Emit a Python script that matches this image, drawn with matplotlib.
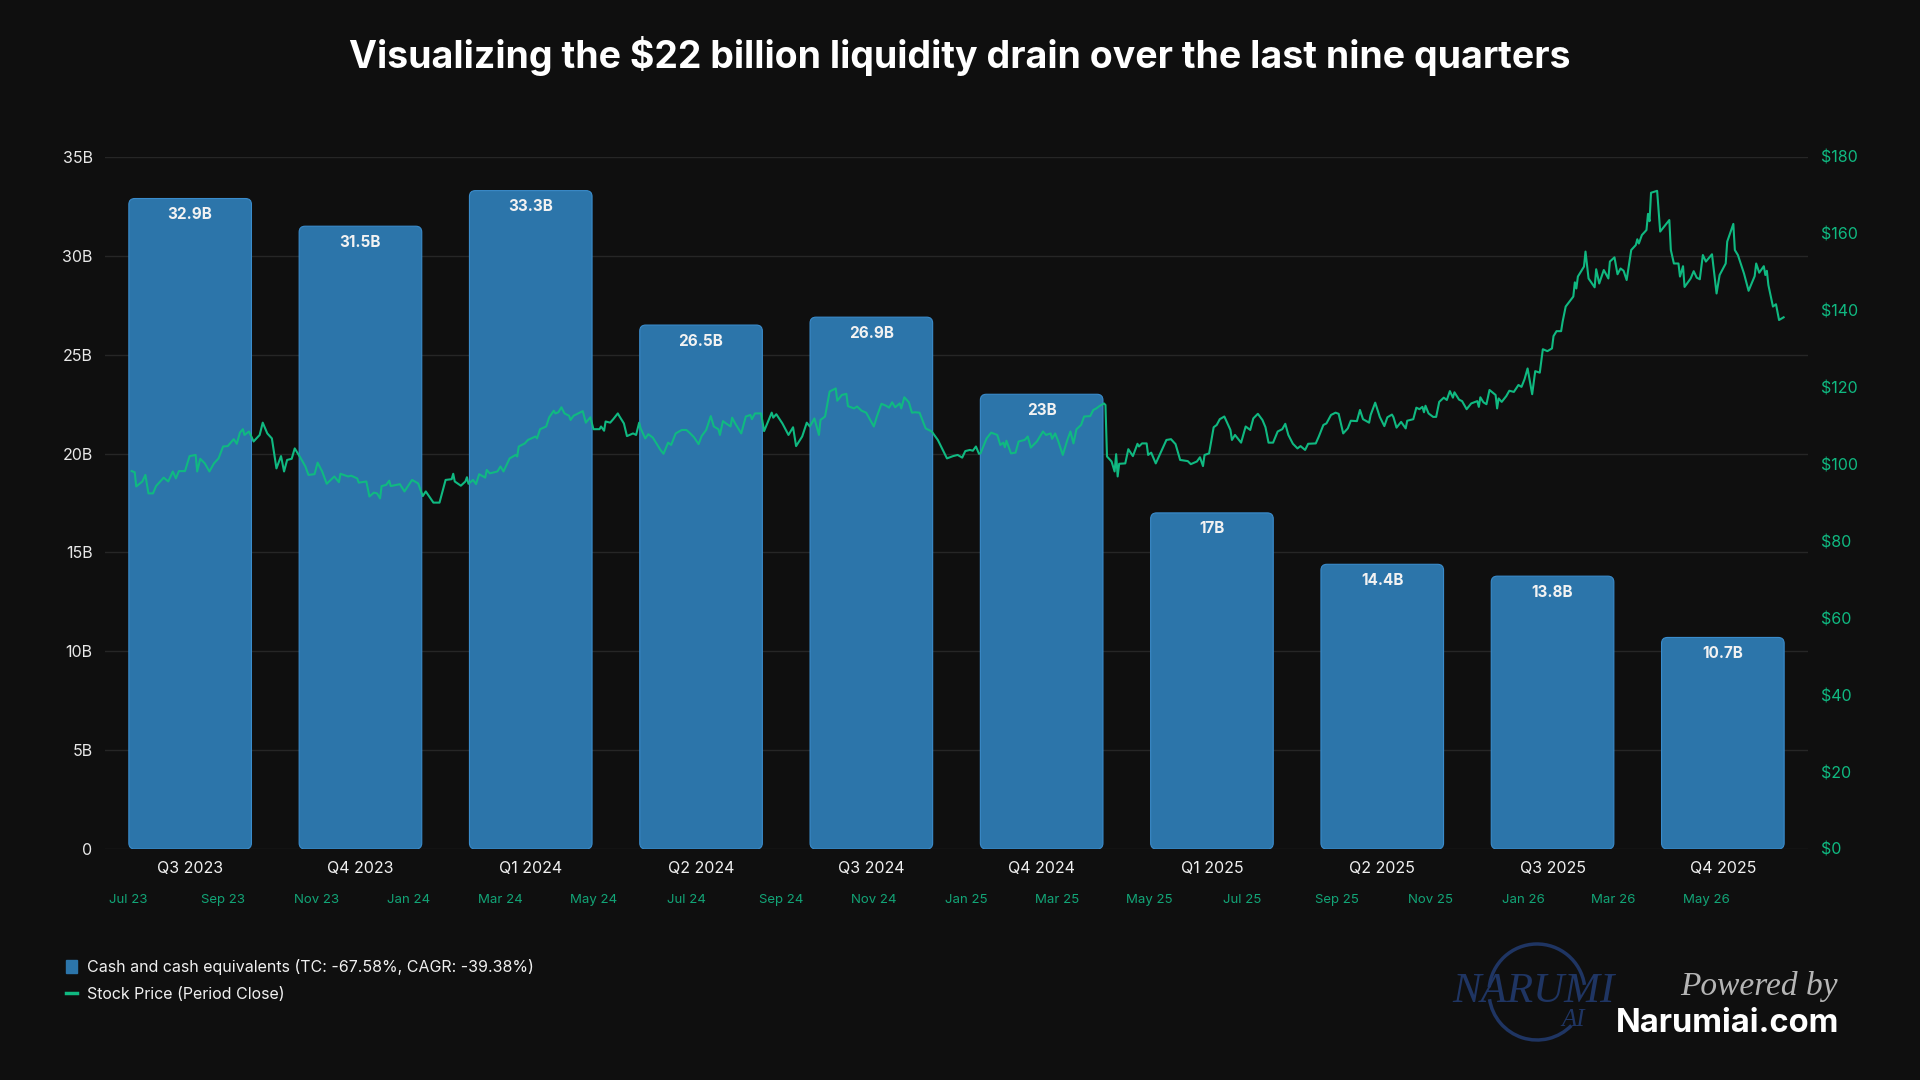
import numpy as np
import pandas as pd
import matplotlib
matplotlib.use("Agg")
import matplotlib.pyplot as plt
import matplotlib.dates as mdates
from matplotlib.patches import FancyBboxPatch, Arc, Patch
from matplotlib.lines import Line2D

plt.rcParams['font.family'] = ['Inter', 'DejaVu Sans']

# quarterly cash and cash equivalents (billions)
quarters = ["Q3 2023", "Q4 2023", "Q1 2024", "Q2 2024", "Q3 2024",
            "Q4 2024", "Q1 2025", "Q2 2025", "Q3 2025", "Q4 2025"]
cash_b = [32.9, 31.5, 33.3, 26.5, 26.9, 23.0, 17.0, 14.4, 13.8, 10.7]
cash_labels = ["32.9B", "31.5B", "33.3B", "26.5B", "26.9B",
               "23B", "17B", "14.4B", "13.8B", "10.7B"]

# stock price close (days counted from price_start)
price_start = "2023-07-01"
price_day = [
    2, 4, 5, 9, 11, 13, 16, 18, 23, 26, 29, 31, 33, 37, 40, 44, 45, 47, 50, 53,
    56, 59, 62, 65, 69, 71, 73, 75, 76, 79, 82, 86, 88, 91, 94, 97, 100, 102, 104, 107,
    109, 113, 116, 118, 122, 124, 127, 130, 135, 138, 139, 144, 146, 150, 151, 156, 158, 161, 163, 165,
    166, 169, 171, 172, 178, 181, 186, 190, 193, 195, 200, 204,
    208, 212, 213, 214, 218, 221, 222, 223, 226, 228, 230, 234, 235, 237, 242, 244, 246, 250,
    254, 255, 256, 260, 262, 267, 268, 270, 274, 276, 279, 280, 282, 284, 286, 289, 290, 292,
    294, 296, 298, 300, 303, 305, 309, 310, 312, 313, 316, 318, 319, 321, 322, 325, 327, 331,
    333, 335, 336, 339, 341, 344, 349, 351, 354, 356, 359, 363, 366, 368, 371, 374, 376, 379,
    382, 384, 387, 388,
    390, 392, 395, 396, 398, 402, 405, 408, 409, 411, 415, 417, 422, 423, 425, 429, 433, 436,
    438, 442, 445, 447, 450, 453, 454, 457, 460, 464, 465, 468, 471, 472, 476, 478, 481, 484,
    489, 491, 494, 497, 499, 501, 503, 506, 507, 509, 512, 514, 516, 519, 523, 527, 531, 537,
    541, 544, 547, 549, 552, 554, 556, 558, 559, 563, 566, 570, 572, 574, 575, 576, 579, 582, 584,
    588, 590, 592, 596, 600, 602, 605, 606, 608, 610, 613, 616, 618, 620, 622, 625, 627, 631,
    633, 635, 637, 640, 641, 642, 645, 647, 648, 649, 650, 654, 656, 659, 662, 663, 665, 668,
    669, 671, 674, 677, 681, 684, 687, 690, 695, 697, 701, 703, 705, 706, 709, 712, 714, 716,
    719, 723, 724, 726, 730, 733, 736, 738, 741, 744, 746, 748, 751, 754, 757, 759, 761, 764,
    767, 769, 772, 774, 779, 781, 784, 786, 789, 792, 794,
    797, 800, 802, 806, 808, 810, 814, 815, 818, 821, 824, 826, 829, 830, 832, 835, 838, 839,
    843, 845, 847, 849, 850, 851, 853, 856, 858, 860, 863, 865, 867, 869, 870, 873, 875, 878,
    881, 885, 886, 887, 889, 891, 893, 897, 898, 899, 901, 904, 906, 909, 912, 914, 916, 918,
    921, 923, 926, 928, 931, 934, 935, 937, 940,
    941, 943, 948, 949, 950, 951, 955, 956, 958, 962, 963, 965, 968, 971, 972, 975, 977, 979,
    981, 983, 986, 989, 990, 991, 993, 996, 997, 998, 999, 1003, 1005, 1011, 1012, 1014, 1017,
    1018, 1020, 1021, 1025, 1027, 1029, 1031, 1033, 1035, 1039, 1042, 1044, 1048, 1049, 1053,
    1054, 1056, 1060, 1063, 1067, 1068, 1070, 1073, 1074, 1075, 1076, 1079, 1081, 1083, 1086,
]
price_close = [
    98.3, 98.0, 94.3, 95.6, 97.3, 92.5, 92.5, 94.4, 96.6, 95.6, 98.2, 96.4, 98.3, 98.3, 102.2, 102.5, 98.2, 101.5, 100.3, 98.2,
    100.3, 101.6, 104.7, 104.8, 106.6, 105.4, 108.3, 109.2, 107.7, 108.6, 106.0, 107.7, 110.9, 108.1, 106.8, 99.0, 102.2, 98.2, 101.2, 101.5,
    104.2, 101.6, 99.5, 97.3, 97.5, 100.5, 98.2, 95.0, 96.9, 95.4, 97.6, 96.9, 97.1, 96.4, 95.3, 95.6, 91.7, 92.7, 92.5, 91.2,
    94.4, 94.7, 95.8, 94.4, 94.9, 93.0, 96.0, 95.1, 91.8, 93.0, 90.1, 90.1,
    96.0, 96.2, 97.6, 95.6, 94.5, 95.6, 96.7, 95.0, 96.0, 94.9, 97.5, 96.6, 98.6, 97.7, 98.2, 99.5, 98.2, 101.6,
    102.5, 102.1, 104.7, 105.5, 106.4, 107.3, 106.8, 109.2, 109.9, 112.3, 114.0, 113.3, 113.6, 114.9, 113.3, 112.7, 111.6, 112.7,
    113.1, 113.5, 113.9, 110.9, 112.3, 109.2, 109.2, 109.9, 108.8, 111.2, 110.9, 111.8, 112.3, 113.3, 112.6, 110.7, 107.4, 108.1,
    107.7, 110.9, 109.4, 106.8, 107.9, 107.0, 103.8, 102.8, 105.7, 105.1, 108.1, 109.0, 109.0, 108.3, 107.1, 105.3, 107.4, 109.0,
    112.6, 109.9, 109.2, 107.7,
    111.3, 110.7, 109.9, 112.2, 110.7, 108.1, 112.5, 112.9, 111.8, 113.3, 113.3, 108.7, 113.5, 112.2, 113.1, 110.7, 107.7, 109.7,
    104.8, 107.3, 110.9, 109.9, 112.0, 107.7, 111.6, 112.5, 119.0, 119.8, 116.6, 118.1, 118.4, 115.2, 114.6, 115.1, 114.0, 113.5,
    109.9, 112.5, 115.8, 115.3, 114.8, 116.2, 114.9, 115.9, 114.6, 117.5, 116.2, 113.5, 113.6, 113.5, 109.4, 108.6, 106.4, 101.6,
    102.2, 102.5, 101.8, 103.5, 103.8, 103.6, 104.7, 102.8, 102.9, 106.8, 108.3, 107.7, 105.1, 105.7, 104.5, 106.2, 102.9, 103.1, 106.0,
    106.4, 107.3, 104.4, 106.0, 108.6, 107.7, 108.1, 106.7, 108.1, 106.1, 102.5, 106.4, 108.6, 105.5, 109.2, 110.3, 112.5, 112.6,
    114.2, 114.6, 115.2, 115.9, 115.5, 102.1, 100.8, 98.2, 102.7, 96.9, 100.2, 100.3, 104.0, 102.2, 105.4, 104.7, 105.5, 105.5,
    102.5, 103.1, 100.3, 102.9, 106.4, 106.6, 105.3, 101.2, 100.9, 100.1, 100.8, 101.9, 99.6, 102.5, 102.9, 109.7, 110.3, 111.8,
    112.5, 109.0, 106.4, 107.7, 105.7, 109.9, 109.0, 112.0, 113.2, 111.6, 109.7, 105.7, 105.7, 108.6, 109.2, 110.6, 107.7, 105.4,
    104.2, 104.8, 103.8, 105.4, 105.5, 107.3, 110.3, 110.7, 112.9, 113.5, 113.2,
    108.1, 109.4, 111.4, 111.3, 114.2, 111.8, 110.9, 112.9, 116.1, 112.4, 110.0, 112.3, 113.0, 112.3, 109.6, 111.1, 109.4, 111.4,
    111.8, 114.8, 114.4, 115.0, 113.6, 115.3, 113.3, 112.4, 112.4, 116.3, 117.4, 116.8, 119.1, 117.4, 118.8, 116.9, 116.5, 114.4,
    115.9, 116.5, 115.0, 117.5, 116.2, 115.7, 119.4, 118.1, 114.6, 117.2, 116.3, 117.8, 119.2, 118.9, 120.7, 120.2, 122.2, 125.0,
    118.3, 124.3, 123.9, 130.0, 129.5, 130.2, 133.4, 134.7, 134.7,
    137.2, 141.1, 143.7, 147.4, 145.8, 148.9, 151.5, 155.4, 148.4, 146.1, 150.8, 147.1, 150.6, 148.4, 152.8, 153.9, 149.5, 151.0,
    150.4, 148.0, 155.8, 157.1, 158.6, 157.5, 159.7, 161.0, 165.2, 163.3, 170.7, 171.2, 160.6, 163.6, 155.8, 152.3, 152.3,
    148.9, 151.6, 146.2, 148.4, 150.3, 148.6, 148.2, 154.5, 152.8, 154.7, 144.5, 149.3, 152.3, 158.0, 162.6,
    155.8, 154.5, 149.7, 145.2, 149.0, 152.3, 149.9, 151.6, 149.3, 150.4, 146.7, 141.1, 141.7, 137.6, 138.3,
]
date_ticks = pd.date_range("2023-07-01", "2026-05-01", freq="2MS")

BG = "#0f0f0f"
BAR = "#2c75aa"
GREEN = "#10b981"

fig = plt.figure(figsize=(19.2, 10.8), dpi=100, facecolor=BG)
rect = [105 / 1920, 1 - 849 / 1080, (1808 - 105) / 1920, (849 - 157) / 1080]

# bars on the left axis
ax = fig.add_axes(rect)
ax.set_facecolor(BG)
ax.set_xlim(-0.5, len(quarters) - 0.5)
ax.set_ylim(0, 35)
ax.set_yticks(np.arange(0, 36, 5))
ax.set_yticklabels(["0"] + [f"{v}B" for v in range(5, 36, 5)])
ax.set_xticks(np.arange(len(quarters)))
ax.set_xticklabels(quarters)
ax.grid(axis="y", color="#262626", lw=1)
ax.set_axisbelow(True)
for s in ax.spines.values():
    s.set_visible(False)
ax.tick_params(axis="y", length=0, pad=9, labelsize=11.5, labelcolor="#e8e8e8")
ax.tick_params(axis="x", length=0, pad=9, labelsize=11.5, labelcolor="#f0f0f0")

w = 0.72
ax_w_px = rect[2] * 1920
ax_h_px = rect[3] * 1080
aspect = (ax_w_px / len(quarters)) / (ax_h_px / 35)
for i, v in enumerate(cash_b):
    box = FancyBboxPatch((i - w / 2, 0), w, v,
                         boxstyle="round,pad=0,rounding_size=0.035",
                         mutation_aspect=aspect,
                         fc=BAR, ec="#3a8ccc", lw=0.8, zorder=2)
    ax.add_patch(box)
    ax.annotate(cash_labels[i], (i, v), xytext=(0, -11.5), textcoords="offset points",
                ha="center", va="center", color="#f2f2f2", fontsize=11,
                fontweight="bold", zorder=3)

# stock price on its own date axis, right side
axp = fig.add_axes(rect, facecolor="none")
start = pd.Timestamp(price_start)
dates = start + pd.to_timedelta(price_day, unit="D")
axp.plot(dates, price_close, color=GREEN, lw=1.5, zorder=4)
axp.set_xlim(start - pd.Timedelta(days=15.5), start + pd.Timedelta(days=1102))
axp.set_ylim(0, 180)
axp.yaxis.tick_right()
axp.set_yticks(np.arange(0, 181, 20))
axp.set_yticklabels([f"${v}" for v in range(0, 181, 20)])
axp.set_xticks(date_ticks)
axp.xaxis.set_major_formatter(mdates.DateFormatter("%b %y"))
for s in axp.spines.values():
    s.set_visible(False)
axp.tick_params(axis="y", length=0, pad=9, labelsize=11.5, labelcolor=GREEN)
axp.tick_params(axis="x", length=0, pad=32.5, labelsize=9.5, labelcolor="#12a577")

fig.text(0.5, 1 - 56 / 1080, "Visualizing the $22 billion liquidity drain over the last nine quarters",
         ha="center", va="center", color="white", fontsize=27, fontweight="bold")

handles = [Patch(facecolor=BAR, edgecolor=BAR),
           Line2D([0], [0], color=GREEN, lw=2.5)]
fig.legend(handles, ["Cash and cash equivalents (TC: -67.58%, CAGR: -39.38%)",
                     "Stock Price (Period Close)"],
           loc="upper left", bbox_to_anchor=(0.027, 1 - 945 / 1080), frameon=False,
           handlelength=0.7, handleheight=0.9, handletextpad=0.6, labelspacing=0.75,
           fontsize=11.5, labelcolor="#f0f0f0")

# logo
navy = "#1f3563"
fig.add_artist(Arc((1537 / 1920, 1 - 992 / 1080), 96 / 1920, 96 / 1080, theta1=15, theta2=170,
                   transform=fig.transFigure, color=navy, lw=2.5))
fig.add_artist(Arc((1537 / 1920, 1 - 992 / 1080), 96 / 1920, 96 / 1080, theta1=195, theta2=300,
                   transform=fig.transFigure, color=navy, lw=2.5))
fig.text(1533 / 1920, 1 - 992 / 1080, "NARUMI", ha="center", va="center", color=navy,
         fontsize=31, family="Liberation Serif", style="italic")
fig.text(1573 / 1920, 1 - 1020 / 1080, "AI", ha="center", va="center", color=navy,
         fontsize=18, family="Liberation Serif", style="italic")
fig.text(1838 / 1920, 1 - 987 / 1080, "Powered by", ha="right", va="center", color="#b5b5b5",
         fontsize=24, family="Liberation Serif", style="italic")
fig.text(1839 / 1920, 1 - 1024 / 1080, "Narumiai.com", ha="right", va="center", color="white",
         fontsize=23.5, fontweight="bold")

fig.savefig("out.png", dpi=100, facecolor=BG)
